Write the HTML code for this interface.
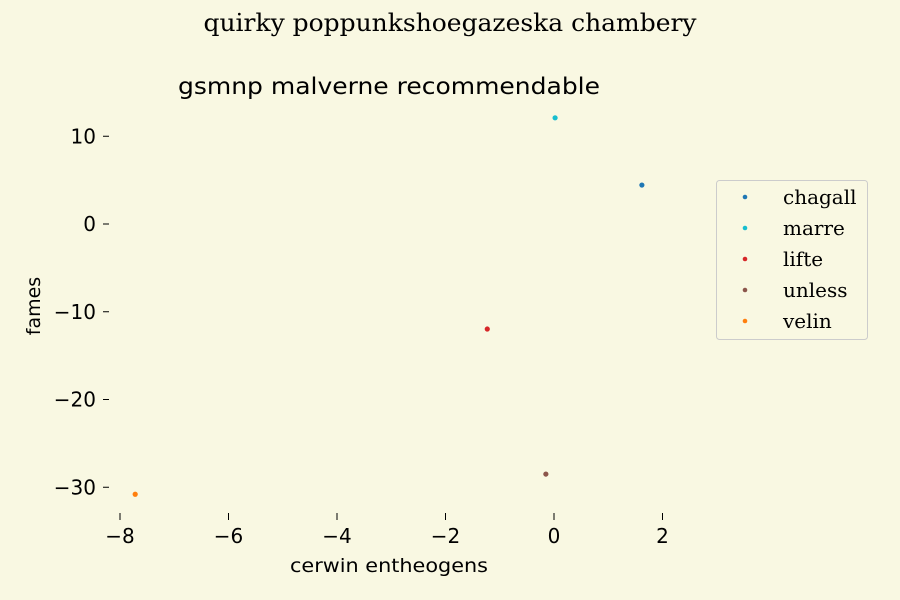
<!DOCTYPE html>
<html><head><meta charset="utf-8"><style>
html,body{margin:0;padding:0;background:#f9f8e2;}
svg{display:block}
.sans{font-family:"DejaVu Sans","Liberation Sans",sans-serif;}
.serif{font-family:"DejaVu Serif","Liberation Serif",serif;}
</style></head><body>
<svg id="chart" width="900" height="600">
<rect width="900" height="600" fill="#f9f8e2"/>
<text x="450" y="31" text-anchor="middle" font-size="24" class="serif" fill="#000" textLength="493" lengthAdjust="spacingAndGlyphs">quirky poppunkshoegazeska chambery</text>
<text x="389" y="94" text-anchor="middle" font-size="23" class="sans" fill="#000" textLength="422" lengthAdjust="spacingAndGlyphs">gsmnp malverne recommendable</text>
<text x="389" y="572" text-anchor="middle" font-size="19" class="sans" textLength="198" lengthAdjust="spacingAndGlyphs">cerwin entheogens</text>
<text transform="translate(40,306) rotate(-90)" text-anchor="middle" font-size="19" class="sans">fames</text>
<g id="xt"></g><g id="yt"></g><g id="pts"></g>
<g>
<rect x="716.5" y="180.5" width="151" height="159" rx="3" fill="#f9f8e2" stroke="#cccccc"/>
<g id="leg"></g>
</g>
</svg>
<script>
const names=["chagall","marre","lifte","unless","velin"];
const xs=[1.62,0.02,-1.23,-0.15,-7.72];
const ys=[4.44,12.1,-11.97,-28.5,-30.8];
const colors=["#1f77b4","#17becf","#d62728","#8c564b","#ff7f0e"];
const xticks=[-8,-6,-4,-2,0,2];
const yticks=[10,0,-10,-20,-30];
const X=v=>554+v*54.25, Y=v=>224-v*8.775;
const NS="http://www.w3.org/2000/svg";
function mk(t,a,p){const e=document.createElementNS(NS,t);for(const k in a)e.setAttribute(k,a[k]);p.appendChild(e);return e;}
const xt=document.getElementById('xt'),yt=document.getElementById('yt'),pts=document.getElementById('pts'),leg=document.getElementById('leg');
xticks.forEach(v=>{
 const l=mk('line',{x1:X(v),x2:X(v),y1:513,y2:520,stroke:'#000'},xt);
 
 
 const t=mk('text',{x:X(v),y:543,'text-anchor':'middle','font-size':20,class:'sans'},xt);
 t.textContent=(v<0?'\u2212'+(-v):v);
 
 
});
yticks.forEach(v=>{
 const l=mk('line',{x1:103,x2:109,y1:Y(v),y2:Y(v),stroke:'#000'},yt);
 
 
 const t=mk('text',{x:96,y:Y(v)+7,'text-anchor':'end','font-size':20,class:'sans'},yt);
 t.textContent=(v<0?'\u2212'+(-v):v);
 
 
});
names.forEach((n,i)=>{
 const c=mk('circle',{cx:X(xs[i]),cy:Y(ys[i]),r:2.6,fill:colors[i]},pts);
 
 
 const y=198+i*31;
 const m=mk('circle',{cx:745,cy:y-1,r:2.3,fill:colors[i]},leg);
 
 
 const t=mk('text',{x:783,y:y+6,'font-size':20,class:'serif'},leg);
 t.textContent=n;
 
 
});
</script>
</body></html>
